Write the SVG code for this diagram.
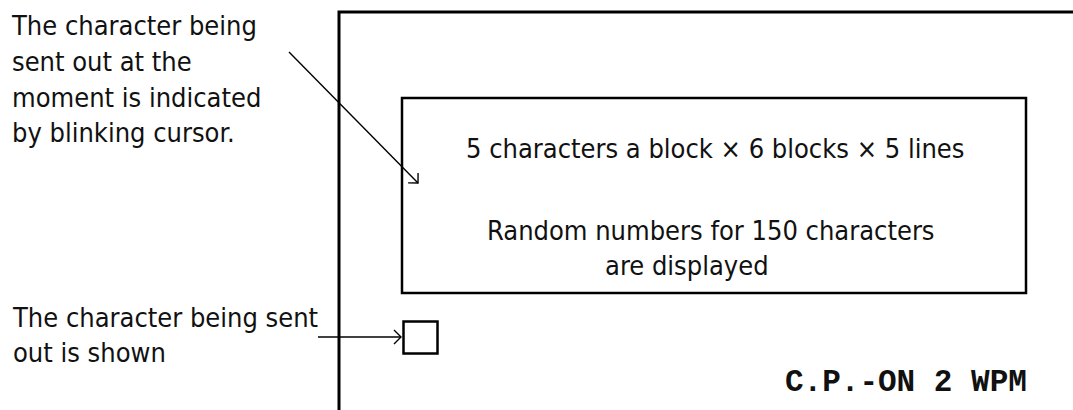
<svg xmlns="http://www.w3.org/2000/svg" width="1073" height="410" viewBox="0 0 1073 410">
<style>
.t{font-family:"DejaVu Sans","Verdana",sans-serif;font-stretch:condensed;font-size:27px;fill:#111}
.m{font-family:"Liberation Mono","Courier New",monospace;font-weight:bold;font-size:31px;fill:#111}
.frame{fill:none;stroke:#000;stroke-width:3}
.box{fill:none;stroke:#000;stroke-width:2.5}
.conn{fill:none;stroke:#000;stroke-width:1.4}
</style>
<defs>
<marker id="ah" markerUnits="userSpaceOnUse" markerWidth="16" markerHeight="16" viewBox="-10 -8 12 16" refX="0" refY="0" orient="auto">
<path d="M-7,-7 L0,0 L-7,7" fill="none" stroke="#000" stroke-width="1.4"/>
</marker>
</defs>
<rect width="1073" height="410" fill="#fff"/>
<g id="screen">
<path class="frame" d="M339,412 V12 H1076"/>
</g>
<g id="display-block">
<rect class="box" x="402" y="98" width="624" height="195"/>
<text class="t" x="466" y="158">5 characters a block × 6 blocks × 5 lines</text>
<text class="t" x="487" y="240">Random numbers for 150 characters</text>
<text class="t" x="605" y="275">are displayed</text>
</g>
<g id="current-char">
<rect class="box" x="403.5" y="321.5" width="34" height="32" stroke-width="2"/>
</g>
<g id="note-cursor">
<text class="t" x="12" y="35">The character being</text>
<text class="t" x="12" y="71">sent out at the</text>
<text class="t" x="12" y="107">moment is indicated</text>
<text class="t" x="12" y="142">by blinking cursor.</text>
</g>
<g id="note-sent">
<text class="t" x="13" y="327">The character being sent</text>
<text class="t" x="13" y="362">out is shown</text>
</g>
<g id="status">
<text class="m" x="785" y="391">C.P.-ON 2 WPM</text>
</g>
<g id="connectors">
<line class="conn" x1="289" y1="52" x2="418" y2="183" marker-end="url(#ah)"/>
<line class="conn" x1="318" y1="337" x2="401" y2="337" marker-end="url(#ah)"/>
</g>
</svg>
